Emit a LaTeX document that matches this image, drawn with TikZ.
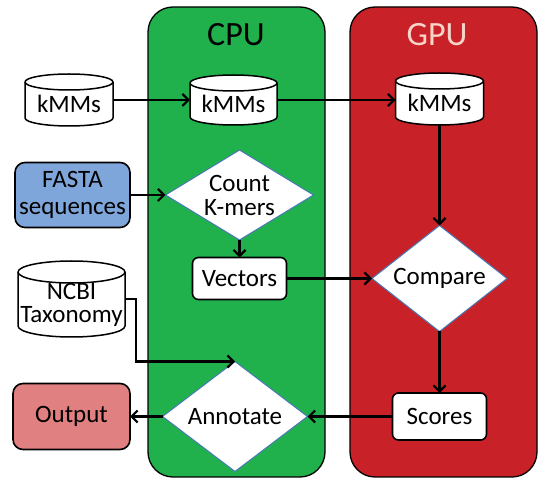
\documentclass[tikz,border=0pt]{standalone}
\usepackage{fontspec}
\setmainfont{Carlito}
\usetikzlibrary{arrows.meta}
\pgfdeclarelayer{bg}\pgfdeclarelayer{mid}\pgfsetlayers{bg,mid,main}
\definecolor{cpugreen}{RGB}{32,177,76}
\definecolor{gpured}{RGB}{201,33,40}
\definecolor{gputext}{RGB}{248,212,200}
\definecolor{fastablue}{RGB}{127,166,218}
\definecolor{outred}{RGB}{224,128,128}
\definecolor{diablue}{RGB}{70,120,180}
\newcommand\cylshape[3]{%
  \begin{pgfonlayer}{mid}
  \draw[cylline] ([yshift=-#3]#1.north west) -- ([yshift=#3]#1.south west)
     arc[start angle=180,end angle=360,x radius=#2,y radius=#3]
     -- ([yshift=-#3]#1.north east)
     arc[start angle=0,end angle=180,x radius=#2,y radius=#3] -- cycle;
  \draw[cylline,fill=none] ([yshift=-#3]#1.north east)
     arc[start angle=0,end angle=-180,x radius=#2,y radius=#3];
  \end{pgfonlayer}}
\newcommand\diashape[1]{%
  \begin{pgfonlayer}{mid}
  \draw[dialine] (#1.north) -- (#1.east) -- (#1.south) -- (#1.west) -- cycle;
  \end{pgfonlayer}}
\tikzset{
  every node/.style={font=\fontsize{25}{27}\selectfont},
  panel/.style={draw=black, line width=1.3pt, rounded corners=25pt},
  cylline/.style={draw=black, line width=1.5pt, fill=white},
  cylnode/.style={rectangle, inner sep=0pt, outer sep=0pt},
  dialine/.style={draw=diablue, line width=1pt, fill=white},
  dianode/.style={rectangle, inner sep=0pt, outer sep=0pt, align=center, font=\fontsize{25}{24}\selectfont},
  box/.style={rectangle, draw=black, line width=1.6pt, rounded corners=6pt, fill=white, inner sep=0pt, outer sep=0pt, align=center},
  arr/.style={line width=2.2pt, -{Straight Barb[length=6pt,width=12pt]}},
  title/.style={font=\fontsize{34}{36}\selectfont}
}
\begin{document}
\begin{tikzpicture}[x=1pt,y=1pt]
\useasboundingbox (0,0) rectangle (539,480);
\begin{pgfonlayer}{bg}
\fill[white] (0,0) rectangle (539,480);
\draw[panel, fill=cpugreen] (148,3) rectangle (325,473);
\draw[panel, fill=gpured] (350,3) rectangle (537,473);
\end{pgfonlayer}
\node[title] (cputitle) at (236,445) {CPU};
\node[title, text=gputext] (gputitle) at (437,445) {GPU};

% cylinders
\node[cylnode, minimum width=88pt, minimum height=52pt,
  label={[yshift=-4pt]center:kMMs}] (k1) at (69,380) {};
\cylshape{k1}{44pt}{8pt}
\node[cylnode, minimum width=87pt, minimum height=50pt,
  label={[yshift=-4pt]center:kMMs}] (k2) at (233.5,380) {};
\cylshape{k2}{43.5pt}{8pt}
\node[cylnode, minimum width=88pt, minimum height=52pt,
  label={[yshift=-4pt]center:kMMs}] (k3) at (439.5,381) {};
\cylshape{k3}{44pt}{8pt}
\node[cylnode, minimum width=107pt, minimum height=76pt,
  label={[yshift=-6pt, align=center, font=\fontsize{25}{23}\selectfont]center:NCBI\\Taxonomy}] (ncbi) at (71.5,181) {};
\cylshape{ncbi}{53.5pt}{11pt}

% boxes
\node[box, fill=fastablue, rounded corners=10pt, minimum width=115pt, minimum height=65pt,
  font=\fontsize{25}{27}\selectfont] (fasta) at (72.5,285) {FASTA\\sequences};
\node[box, minimum width=94pt, minimum height=42pt] (vec) at (239.5,201.5) {Vectors};
\node[box, minimum width=94pt, minimum height=47pt] (sco) at (439.5,63.5) {Scores};
\node[box, fill=outred, rounded corners=10pt, minimum width=117pt, minimum height=66pt] (out) at (71.5,63.5) {Output};

% diamonds
\node[dianode, minimum width=148pt, minimum height=90pt] (cnt) at (239.5,285) {Count\\K-mers};
\diashape{cnt}
\node[dianode, minimum width=135pt, minimum height=106pt] (cmp) at (439.5,201.5) {Compare};
\diashape{cmp}
\node[dianode, minimum width=145pt, minimum height=110pt] (ann) at (235,63.5) {Annotate};
\diashape{ann}

% connectors
\draw[arr] (k1.east) -- (k2.west);
\draw[arr] (k2.east) -- (k2.east -| k3.west);
\draw[arr] (k3.south) -- (cmp.north);
\draw[arr] (fasta.east) -- (cnt.west);
\draw[arr] (cnt.south) -- (vec.north);
\draw[arr] (vec.east) -- (cmp.west);
\draw[arr] (cmp.south) -- (sco.north);
\draw[arr] (sco.west) -- (ann.east);
\draw[arr] (ann.west) -- (out.east);
\draw[arr] (ncbi.east) -- ++(11,0) |- (ann.north);
\end{tikzpicture}
\end{document}
